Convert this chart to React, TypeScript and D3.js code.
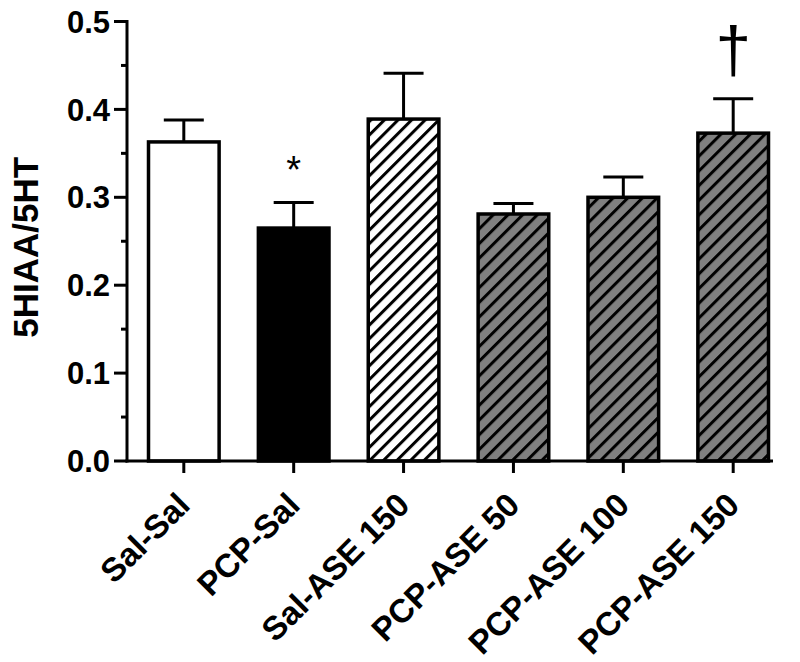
import React from 'react';
import * as d3 from 'd3';

// groups, means and SEM
const groups = ['Sal-Sal', 'PCP-Sal', 'Sal-ASE 150', 'PCP-ASE 50', 'PCP-ASE 100', 'PCP-ASE 150'];
const means = [0.363, 0.265, 0.389, 0.281, 0.300, 0.373];
const sems = [0.025, 0.029, 0.052, 0.012, 0.023, 0.039];
const marks = ['', '*', '', '', '', '\u2020'];
const fills = ['white', 'black', 'hatchWhite', 'hatchGray', 'hatchGray', 'hatchGray'];
const yTicks = [0, 0.1, 0.2, 0.3, 0.4, 0.5];
const yMinorTicks = [0.05, 0.15, 0.25, 0.35, 0.45];

const W = 800;
const H = 662;
const font = '"Liberation Sans", Arial, Helvetica, sans-serif';

export default function App() {
  const y = d3.scaleLinear().domain([0, 0.5]).range([461, 21.5]);
  const x = d3.scaleBand<string>().domain(groups).range([147, 770]).paddingInner(0.33).paddingOuter(0);
  const axisX = 127;
  const axisEnd = 773;
  const bw = x.bandwidth();

  const fillFor = (f: string) => (f.startsWith('hatch') ? `url(#${f})` : f);

  return (
    <svg width={W} height={H} style={{position: 'absolute', left: 0, top: 0, background: 'white'}}>
      <defs>
        <pattern id="hatchWhite" patternUnits="userSpaceOnUse" width={9.6} height={9.6} patternTransform="rotate(45)">
          <rect width={9.6} height={9.6} fill="white" />
          <line x1={0} y1={0} x2={0} y2={9.6} stroke="black" strokeWidth={6} />
        </pattern>
        <pattern id="hatchGray" patternUnits="userSpaceOnUse" width={10.4} height={10.4} patternTransform="rotate(45)">
          <rect width={10.4} height={10.4} fill="#808080" />
          <line x1={0} y1={0} x2={0} y2={10.4} stroke="black" strokeWidth={6} />
        </pattern>
      </defs>

      {/* error bars (drawn first so bar outline covers the stem base) */}
      {groups.map((g, i) => {
        const cx = x(g)! + bw / 2;
        const top = y(means[i] + sems[i]);
        return (
          <g key={'e' + g} stroke="black" strokeWidth={3}>
            <line x1={cx} x2={cx} y1={y(means[i])} y2={top} />
            <line x1={cx - 20} x2={cx + 20} y1={top} y2={top} />
          </g>
        );
      })}

      {/* bars */}
      {groups.map((g, i) => (
        <rect
          key={'b' + g}
          x={x(g)! + 1.5}
          y={y(means[i])}
          width={bw - 3}
          height={y(0) - y(means[i])}
          fill={fillFor(fills[i])}
          stroke="black"
          strokeWidth={3.5}
        />
      ))}

      {/* significance marks */}
      {groups.map((g, i) =>
        marks[i] ? (
          <text
            key={'m' + g}
            x={x(g)! + bw / 2}
            y={y(means[i] + sems[i]) - (marks[i] === '*' ? 20 : 27)}
            textAnchor="middle"
            fontFamily={font}
            fontSize={marks[i] === '*' ? 38 : 64}
            fill="black"
          >
            {marks[i]}
          </text>
        ) : null
      )}

      {/* y axis */}
      <line x1={axisX} x2={axisX} y1={y(0.5) - 1.5} y2={y(0) + 1.5} stroke="black" strokeWidth={3} />
      {yTicks.map((t) => (
        <g key={'yt' + t}>
          <line x1={axisX - 13} x2={axisX} y1={y(t)} y2={y(t)} stroke="black" strokeWidth={3} />
          <text
            x={axisX - 17}
            y={y(t)}
            dy="0.36em"
            textAnchor="end"
            fontFamily={font}
            fontWeight="bold"
            fontSize={31}
          >
            {d3.format('.1f')(t)}
          </text>
        </g>
      ))}
      {yMinorTicks.map((t) => (
        <line key={'ym' + t} x1={axisX - 6} x2={axisX} y1={y(t)} y2={y(t)} stroke="black" strokeWidth={3} />
      ))}
      <text
        transform={`translate(38,${(y(0) + y(0.5)) / 2 + 6}) rotate(-90)`}
        textAnchor="middle"
        fontFamily={font}
        fontWeight="bold"
        fontSize={35}
      >
        5HIAA/5HT
      </text>

      {/* x axis */}
      <line x1={axisX - 1.5} x2={axisEnd} y1={y(0)} y2={y(0)} stroke="black" strokeWidth={3} />
      {groups.map((g) => {
        const cx = x(g)! + bw / 2;
        return (
          <g key={'xt' + g}>
            <line x1={cx} x2={cx} y1={y(0)} y2={y(0) + 12} stroke="black" strokeWidth={3} />
            <text
              transform={`translate(${cx + 8},${y(0) + 46}) rotate(-45)`}
              textAnchor="end"
              fontFamily={font}
              fontWeight="bold"
              fontSize={33}
            >
              {g}
            </text>
          </g>
        );
      })}
    </svg>
  );
}
